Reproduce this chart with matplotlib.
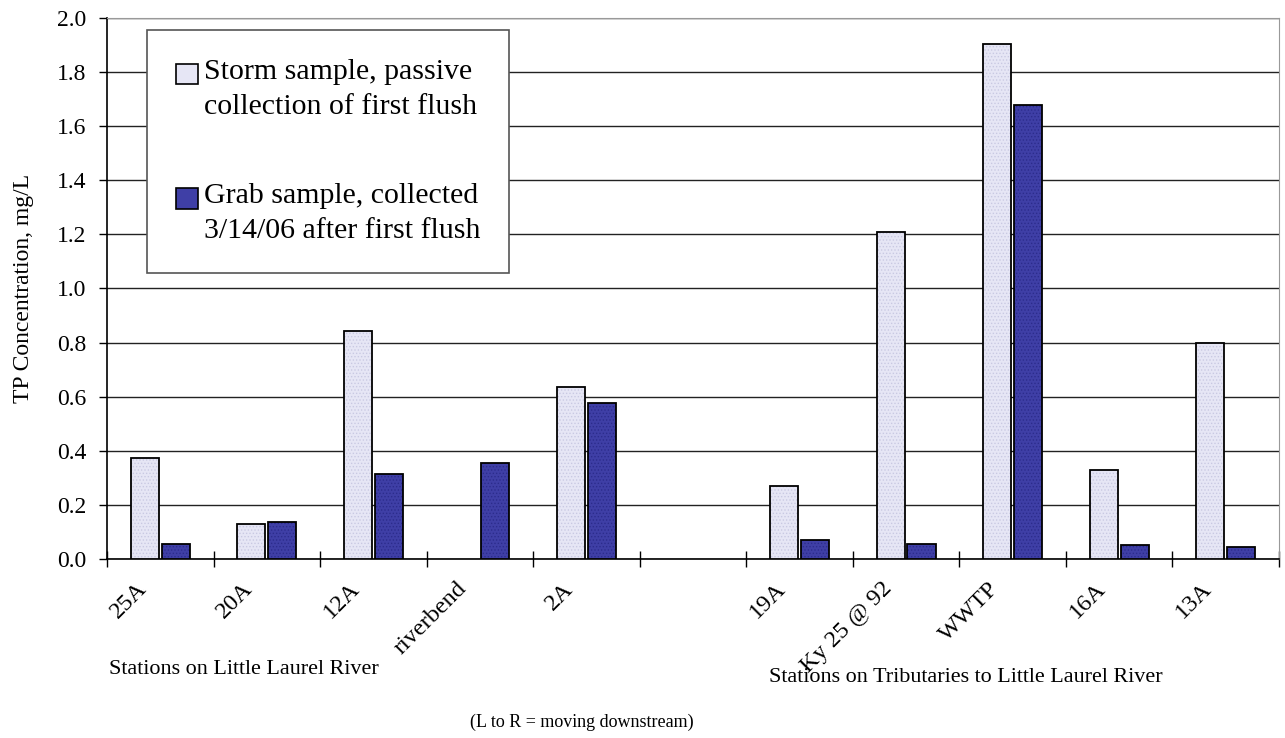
import numpy as np
import matplotlib
matplotlib.use("Agg")
import matplotlib.pyplot as plt
import matplotlib.transforms as mtransforms
from matplotlib.legend_handler import HandlerPatch

stations = ['25A', '20A', '12A', 'riverbend', '2A', '', '19A', 'Ky 25 @ 92', 'WWTP', '16A', '13A']
storm = [0.372, 0.130, 0.842, np.nan, 0.635, np.nan, 0.271, 1.209, 1.903, 0.329, 0.800]
grab = [0.055, 0.136, 0.314, 0.356, 0.575, np.nan, 0.070, 0.055, 1.680, 0.050, 0.044]
storm_label = 'Storm sample, passive\ncollection of first flush'
grab_label = 'Grab sample, collected\n3/14/06 after first flush'

plt.rcParams['font.family'] = ['Liberation Serif', 'DejaVu Serif']
plt.rcParams['hatch.linewidth'] = 0.6

fig = plt.figure(figsize=(12.85, 7.38), dpi=100)
ax = fig.add_axes([107 / 1285, 1 - 559 / 738, 1172 / 1285, 541 / 738])

x = np.arange(len(stations))
w = 0.265
off = 0.145

# fill with a light dotted texture, then outline in black
ax.bar(x - off, storm, w, color='#E6E6F5', edgecolor='#C9C9E2', hatch='.....', linewidth=0, zorder=3)
ax.bar(x + off, grab, w, color='#3F3FA6', edgecolor='#2C2C8C', hatch='.....', linewidth=0, zorder=3)
ax.bar(x - off, storm, w, fill=False, edgecolor='black', linewidth=1.3, zorder=4)
ax.bar(x + off, grab, w, fill=False, edgecolor='black', linewidth=1.3, zorder=4)


# legend square sits next to the first line of a two-line label
def top_square(legend, orig_handle, xdescent, ydescent, width, height, fontsize):
    return plt.Rectangle((-xdescent, -ydescent + 0.5 * fontsize), width, height)


h1 = plt.Rectangle((0, 0), 1, 1, facecolor='#E6E6F5', edgecolor='black', linewidth=1.2)
h2 = plt.Rectangle((0, 0), 1, 1, facecolor='#3F3FA6', edgecolor='black', linewidth=1.2)
leg = ax.legend([h1, h2], [storm_label, grab_label], loc='upper left',
                bbox_to_anchor=(0.034, 0.978), borderaxespad=0, fontsize=21.5,
                handlelength=0.74, handleheight=0.68, handletextpad=0.2,
                labelspacing=2.12, borderpad=0.97, fancybox=False, framealpha=1,
                handler_map={plt.Rectangle: HandlerPatch(patch_func=top_square)})
for t in leg.get_texts():
    t.set_linespacing(1.45)
leg.get_frame().set_edgecolor('#555555')
leg.get_frame().set_linewidth(1.2)
leg.set_zorder(6)

ax.set_xlim(-0.5, len(stations) - 0.5)
ax.set_ylim(0, 2.0)
yt = np.arange(0, 2.01, 0.2)
ax.set_yticks(yt)
ax.set_yticklabels(['%.1f' % v for v in yt], fontsize=17)
ax.yaxis.grid(True, color='#222222', linewidth=1.0, zorder=0)
ax.set_axisbelow(True)
ax.tick_params(axis='y', length=6, width=1, pad=9)

ax.set_xticks(x)
ax.set_xticklabels(stations, rotation=45, ha='right', va='baseline',
                   rotation_mode='anchor', fontsize=17.5)
ax.set_xticks(np.arange(-0.5, len(stations)), minor=True)
ax.tick_params(axis='x', which='major', length=0, pad=22)
ax.tick_params(axis='x', which='minor', direction='inout', length=12, width=1)
shift = mtransforms.ScaledTranslation(-13 / 100, 0, fig.dpi_scale_trans)
for lab in ax.get_xticklabels():
    lab.set_transform(lab.get_transform() + shift)

ax.set_ylabel('TP Concentration, mg/L', fontsize=17)
ax.yaxis.set_label_coords(-0.062, 0.5)

for s in ['top', 'right']:
    ax.spines[s].set_color('#999999')
for s in ['left', 'bottom']:
    ax.spines[s].set_color('black')
    ax.spines[s].set_linewidth(1.2)

fig.text(109 / 1285, 1 - 670 / 738, 'Stations on Little Laurel River', fontsize=15.9, va='center')
fig.text(582 / 1285, 1 - 722 / 738, '(L to R = moving downstream)', fontsize=13, va='center', ha='center')
fig.text(769 / 1285, 1 - 678 / 738, 'Stations on Tributaries to Little Laurel River', fontsize=15.9, va='center')

fig.savefig('out.png', dpi=100)
